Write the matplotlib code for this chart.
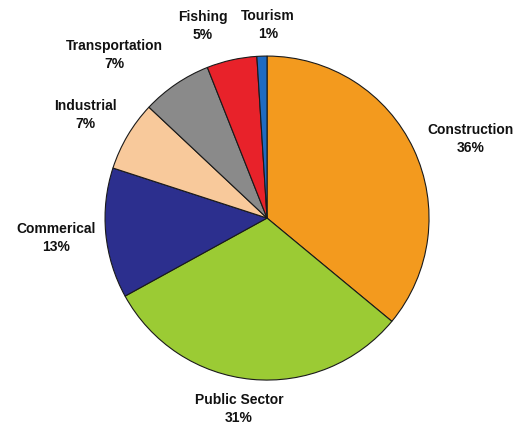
import numpy as np
import matplotlib.pyplot as plt

sectors = ['Construction', 'Public Sector', 'Commerical', 'Industrial',
           'Transportation', 'Fishing', 'Tourism']
shares = [36, 31, 13, 7, 7, 5, 1]
colors = ['#F39A1E', '#9BCB34', '#2C2F8E', '#F8C99B', '#8A8A8A', '#E8222A', '#1F6BC2']

# label distance (in radii) and angle nudge (deg) per slice
label_r = [1.35, 1.19, 1.31, 1.29, 1.38, 1.25, 1.19]
label_da = [-4, -3, 0, 1, 9, 6, -2]

plt.rcParams['font.family'] = ['Liberation Sans', 'DejaVu Sans']

fig = plt.figure(figsize=(5.16, 4.28), dpi=100)
ax = fig.add_axes([0.2035, 0.112, 0.628, 0.757])
wedges, _ = ax.pie(shares, colors=colors, startangle=90, counterclock=False,
                   wedgeprops=dict(edgecolor='#1a1a1a', linewidth=0.8))
ax.set_xlim(-1, 1)
ax.set_ylim(-1, 1)
ax.set_aspect('equal')
ax.axis('off')

for w, name, pct, r, da in zip(wedges, sectors, shares, label_r, label_da):
    ang = np.deg2rad((w.theta1 + w.theta2) / 2 + da)
    ax.text(r * np.cos(ang), r * np.sin(ang), f'{name}\n{pct}%',
            ha='center', va='center', fontsize=10, fontweight='bold',
            linespacing=1.35, color='#111111')

fig.savefig('out.png', dpi=100)
